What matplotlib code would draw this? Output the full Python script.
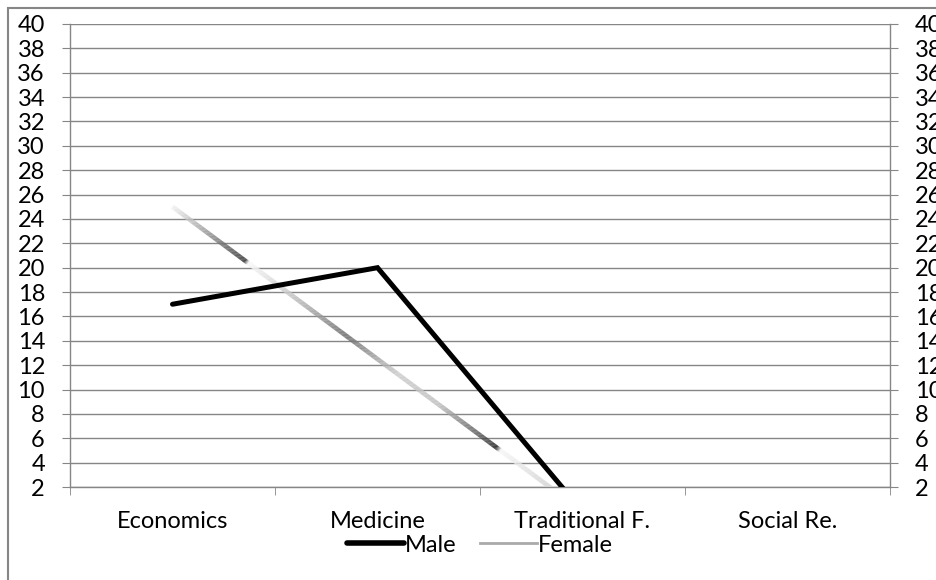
import matplotlib
matplotlib.use('Agg')
import matplotlib.pyplot as plt
import numpy as np
from matplotlib.collections import LineCollection
from matplotlib.lines import Line2D
from matplotlib.patches import Rectangle

categories = ['Economics', 'Medicine', 'Traditional F.', 'Social Re.']
male = [17, 20, 0, 0]
female = [25, 12.5, 0, 0]
y_ticks = list(range(2, 41, 2))

plt.rcParams['font.family'] = ['Lato', 'DejaVu Sans']
FS = 17
GRAY = '#868686'

fig = plt.figure(figsize=(9.36, 5.8), dpi=100)
ax = fig.add_axes([70/936, 1-487/580, 820/936, 463/580])
x = np.arange(len(categories))
ax.set_xlim(-0.5, len(categories) - 0.5)
ax.set_ylim(2, 40)

# grid & spines
ax.set_yticks(y_ticks)
ax.yaxis.grid(True, color=GRAY, lw=1.0)
ax.set_axisbelow(True)
ax.spines['top'].set_visible(False)
for s in ['left', 'right', 'bottom']:
    ax.spines[s].set_color(GRAY)
    ax.spines[s].set_linewidth(1.0)
ax.tick_params(axis='y', which='major', length=6, color=GRAY, pad=12, labelsize=FS, direction='out')

ax.set_xticks(x)
ax.set_xticklabels(categories)
ax.set_xticks(np.arange(-0.5, len(categories), 1), minor=True)
ax.tick_params(axis='x', which='major', length=0, pad=17, labelsize=FS)
ax.tick_params(axis='x', which='minor', length=6, color=GRAY, direction='out')

ax2 = ax.twinx()
ax2.set_ylim(2, 40)
ax2.set_yticks(y_ticks)
ax2.tick_params(axis='y', length=6, color=GRAY, pad=12, labelsize=FS, direction='out')
for s in ax2.spines.values():
    s.set_visible(False)

# Female line with metallic gradient
pts_x, pts_y = [], []
for i in range(len(x) - 1):
    t = np.linspace(0, 1, 300, endpoint=(i == len(x) - 2))
    pts_x.append(x[i] + t * (x[i+1] - x[i]))
    pts_y.append(female[i] + t * (female[i+1] - female[i]))
px = np.concatenate(pts_x)
py = np.concatenate(pts_y)
stops_x = [0.0, 0.34, 0.355, 0.37, 0.6, 0.85, 1.1, 1.3, 1.55, 1.58, 1.6, 1.85, 2.0, 3.0]
stops_g = [0.95, 0.25, 0.2, 0.98, 0.75, 0.42, 0.8, 0.75, 0.25, 0.12, 0.97, 0.82, 0.8, 0.8]
mx = (px[:-1] + px[1:]) / 2
g = np.interp(mx, stops_x, stops_g)
segs = np.stack([np.column_stack([px[:-1], py[:-1]]), np.column_stack([px[1:], py[1:]])], axis=1)
lc = LineCollection(segs, colors=[(v, v, v) for v in g], linewidths=3.3, capstyle='butt', zorder=3)
ax.add_collection(lc)

# Male line
ax.plot(x, male, color='black', lw=3.6, solid_joinstyle='miter', solid_capstyle='round', zorder=4)

# outer border
fig.patches.append(Rectangle((8/936, -0.2), 1.5, (1 - 8/580) + 0.2, transform=fig.transFigure,
                             fill=False, edgecolor=GRAY, lw=1.5))

handles = [Line2D([], [], color='black', lw=4, solid_capstyle='round'),
           Line2D([], [], color='#aaaaaa', lw=2)]
fig.legend(handles, ['Male', 'Female'], loc='center', bbox_to_anchor=(480/936, 1-545/580),
           ncol=2, frameon=False, handlelength=2.4, handletextpad=0.05, columnspacing=1.0,
           fontsize=FS, borderpad=0)

fig.savefig('out.png', dpi=100)
